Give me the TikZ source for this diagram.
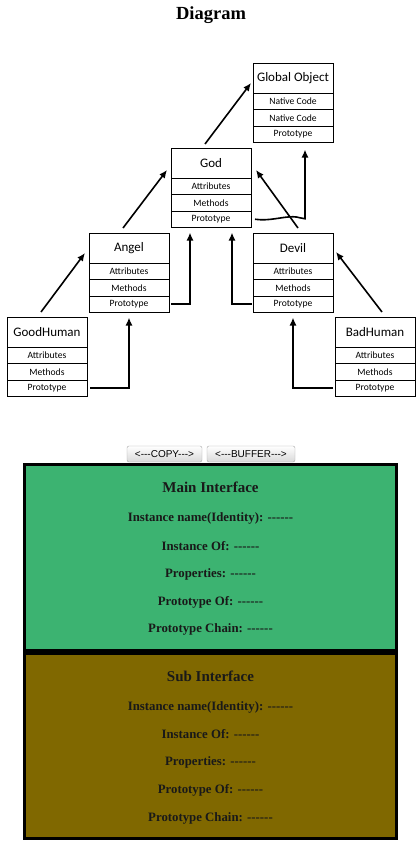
\documentclass[tikz,border=0pt]{standalone}
\usepackage{fontspec}
\setmainfont{Liberation Serif}
\newfontfamily\boxfont{Carlito}
\newfontfamily\btnfont{Liberation Sans}
\usetikzlibrary{arrows.meta, calc, positioning}
\definecolor{mainclr}{RGB}{60,179,113}
\definecolor{subclr}{RGB}{128,104,0}
\newcommand{\tri}{-\kern0pt-\kern0pt-}
\newcommand{\blank}{\tri\kern0pt\tri}

\begin{document}
\begin{tikzpicture}[
    x=1pt, y=-1pt,
    every node/.style={inner sep=0pt, outer sep=0pt},
    objtitle/.style={draw, line width=0.8pt, anchor=north west, minimum width=80pt, minimum height=30pt, font=\boxfont\fontsize{13}{15}\selectfont},
    objrow/.style={draw, line width=0.8pt, minimum width=80pt, minimum height=16.5pt, font=\boxfont\fontsize{9.6}{11}\selectfont},
    link/.style={-{Latex[length=8pt,width=7pt]}, line width=1.6pt},
    proto/.style={link, line width=2.4pt},
    btn/.style={draw=black!35, rounded corners=2pt, top color=white, bottom color=black!15, minimum height=16pt, font=\btnfont\fontsize{10}{12}\selectfont},
    panel/.style={draw, line width=3pt, anchor=north west, minimum width=372pt},
    head/.style={font=\bfseries\fontsize{15}{17}\selectfont, text=black!90},
    field/.style={font=\bfseries\fontsize{12.8}{15}\selectfont, text=black!90}
  ]
  \useasboundingbox (0,0) rectangle (420,860);

  \node[font=\bfseries\fontsize{18.5}{20}\selectfont] (title) at (211,15) {Diagram};

  % Global Object
  \node[objtitle] (GO) at (253,63) {Global Object};
  \node[objrow, below=0pt of GO] (GO-a) {Native Code};
  \node[objrow, below=0pt of GO-a] (GO-m) {Native Code};
  \node[objrow, below=0pt of GO-m] (GO-p) {Prototype};

  % God
  \node[objtitle] (God) at (171,148) {God};
  \node[objrow, below=0pt of God] (God-a) {Attributes};
  \node[objrow, below=0pt of God-a] (God-m) {Methods};
  \node[objrow, below=0pt of God-m] (God-p) {Prototype};

  % Angel and Devil
  \node[objtitle] (A) at (89,233) {Angel};
  \node[objrow, below=0pt of A] (A-a) {Attributes};
  \node[objrow, below=0pt of A-a] (A-m) {Methods};
  \node[objrow, below=0pt of A-m] (A-p) {Prototype};

  \node[objtitle] (D) at (253,233) {Devil};
  \node[objrow, below=0pt of D] (D-a) {Attributes};
  \node[objrow, below=0pt of D-a] (D-m) {Methods};
  \node[objrow, below=0pt of D-m] (D-p) {Prototype};

  % humans
  \node[objtitle] (GH) at (7,317) {GoodHuman};
  \node[objrow, below=0pt of GH] (GH-a) {Attributes};
  \node[objrow, below=0pt of GH-a] (GH-m) {Methods};
  \node[objrow, below=0pt of GH-m] (GH-p) {Prototype};

  \node[objtitle] (BH) at (335,317) {BadHuman};
  \node[objrow, below=0pt of BH] (BH-a) {Attributes};
  \node[objrow, below=0pt of BH-a] (BH-m) {Methods};
  \node[objrow, below=0pt of BH-m] (BH-p) {Prototype};

  % inheritance arrows
  \draw[link] ([xshift=-6pt,yshift=5pt]GH.north) -- ([xshift=-4pt,yshift=-5pt]A.west);
  \draw[link] ([xshift=-6pt,yshift=5pt]A.north) -- ([xshift=-4pt,yshift=-7pt]God.west);
  \draw[link] ([xshift=-6pt,yshift=4pt]God.north) -- ([xshift=-2pt,yshift=-5pt]GO.west);
  \draw[link] ([xshift=5pt,yshift=5pt]D.north) -- ([xshift=5pt,yshift=-7pt]God.east);
  \draw[link] ([xshift=7pt,yshift=5pt]BH.north) -- ([xshift=3pt,yshift=-4pt]D.east);

  % prototype links
  \draw[proto] ([xshift=3pt]GH-p.east) -| ([yshift=-5pt]A-p.south);
  \draw[proto] ([xshift=2pt]A-p.east) -| ([xshift=-21pt,yshift=-5pt]God-p.south);
  \draw[proto] ([xshift=-1pt]D-p.west) -| ([xshift=21pt,yshift=-5pt]God-p.south);
  \draw[proto] ([xshift=-2pt]BH-p.west) -| ([yshift=-5pt]D-p.south);
  \draw[link] ([xshift=4pt]God-p.east) .. controls +(15,2) and +(-12,0) .. ++(38,-2.5)
    .. controls +(6,0) and +(-4,0) .. ++(12,2) -- ($(GO-p.south)+(12,7)$);

  % buttons
  \node[btn, minimum width=75pt] (copy) at (164.5,454) {<\tri COPY\tri>};
  \node[btn, minimum width=88pt] (buffer) at (251,454) {<\tri BUFFER\tri>};

  % main interface
  \node[panel, fill=mainclr, minimum height=186pt] (main) at (24.5,464.5) {};
  \node[head] (main-h) at (210.5,487) {Main Interface};
  \node[field] (main-1) at (210.5,518) {Instance name(Identity): \blank};
  \node[field] (main-2) at (210.5,546) {Instance Of: \blank};
  \node[field] (main-3) at (210.5,574) {Properties: \blank};
  \node[field] (main-4) at (210.5,602) {Prototype Of: \blank};
  \node[field] (main-5) at (210.5,629) {Prototype Chain: \blank};

  % sub interface
  \node[panel, fill=subclr, minimum height=185pt] (sub) at (24.5,653.5) {};
  \node[head] (sub-h) at (210.5,676) {Sub Interface};
  \node[field] (sub-1) at (210.5,707) {Instance name(Identity): \blank};
  \node[field] (sub-2) at (210.5,734) {Instance Of: \blank};
  \node[field] (sub-3) at (210.5,762) {Properties: \blank};
  \node[field] (sub-4) at (210.5,790) {Prototype Of: \blank};
  \node[field] (sub-5) at (210.5,818) {Prototype Chain: \blank};
\end{tikzpicture}
\end{document}
